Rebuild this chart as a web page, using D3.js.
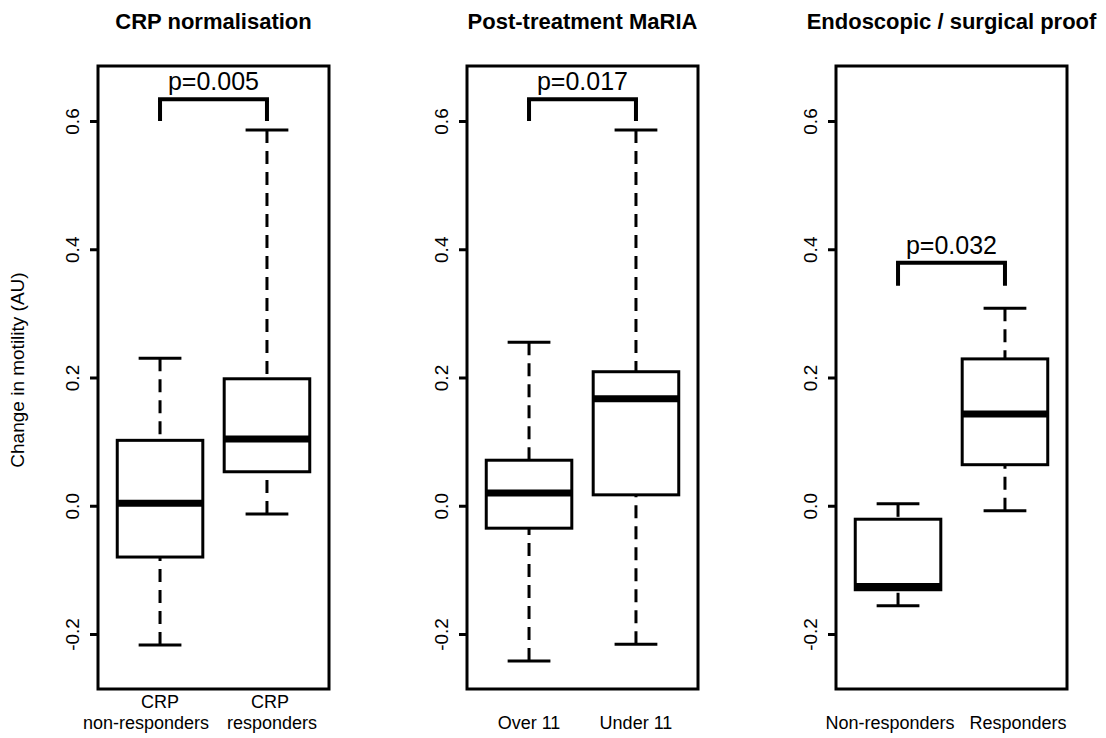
<!DOCTYPE html>
<html>
<head>
<meta charset="utf-8">
<script src="https://cdn.jsdelivr.net/npm/d3@7"></script>
<style>
  body { margin: 0; background: #fff; }
  text { font-family: "Liberation Sans", Arial, sans-serif; fill: #000; }
</style>
</head>
<body>
<div id="chart"></div>
<script>
// panel titles and group labels (two lines under each box)
const titles = ["CRP normalisation", "Post-treatment MaRIA", "Endoscopic / surgical proof"];
const groupLabels = [
  [["CRP", "non-responders"], ["CRP", "responders"]],
  [["", "Over 11"], ["", "Under 11"]],
  [["", "Non-responders"], ["", "Responders"]]
];

// box statistics per panel, [group1, group2]
const whiskerLow  = [[-0.217, -0.013], [-0.242, -0.216], [-0.156, -0.008]];
const q1          = [[-0.080,  0.053], [-0.035,  0.017], [-0.131,  0.064]];
const median      = [[ 0.004,  0.104], [ 0.020,  0.167], [-0.126,  0.143]];
const q3          = [[ 0.102,  0.198], [ 0.071,  0.209], [-0.021,  0.229]];
const whiskerHigh = [[ 0.230,  0.586], [ 0.255,  0.586], [ 0.003,  0.308]];

// significance brackets
const pLabels    = ["p=0.005", "p=0.017", "p=0.032"];
const bracketTop = [0.634, 0.634, 0.379];
const bracketLeg = [0.600, 0.600, 0.343];

const yTicks = [-0.2, 0.0, 0.2, 0.4, 0.6];

const width = 1106, height = 738;
const plotTop = 66, plotBottom = 689;
const panelW = 231, panelStep = 369, firstLeft = 98;
// long labels got pushed apart in the original so they don't collide
const labelNudge = [[[0, -14], [3, 5]], [[0, 0], [0, 0]], [[0, -8], [0, 13]]];

const svg = d3.select("#chart").append("svg")
  .attr("width", width)
  .attr("height", height);

const y = d3.scaleLinear()
  .domain([-0.2858, 0.6858])
  .range([plotBottom, plotTop]);

titles.forEach(function(title, i) {
  const x0 = firstLeft + i * panelStep;
  const x = d3.scaleLinear().domain([0.42, 2.58]).range([x0, x0 + panelW]);
  const g = svg.append("g");

  // title
  g.append("text")
    .attr("x", x0 + panelW / 2)
    .attr("y", 29)
    .attr("text-anchor", "middle")
    .style("font-weight", "bold")
    .style("font-size", "22px")
    .text(title);

  // y axis
  const axis = d3.axisLeft(y)
    .tickValues(yTicks)
    .tickSize(8)
    .tickFormat(d => d.toFixed(1));

  const ax = g.append("g")
    .attr("transform", "translate(" + x0 + ",0)")
    .call(axis);
  ax.select(".domain").remove();
  ax.selectAll(".tick line").attr("stroke", "#000").attr("stroke-width", 3);
  ax.selectAll(".tick text")
    .attr("transform", "rotate(-90)")
    .attr("x", 0)
    .attr("y", -19)
    .attr("dy", 0)
    .attr("text-anchor", "middle")
    .style("font-size", "19px")
    .style("font-family", "'Liberation Sans', Arial, sans-serif")
    .attr("fill", "#000");

  const boxW = x(1.4) - x(0.6);
  const capW = boxW / 2;

  [0, 1].forEach(function(j) {
    const cx = x(j + 1);
    // whiskers, drawn from whisker end toward box like R does
    g.append("line")
      .attr("x1", cx).attr("x2", cx)
      .attr("y1", y(whiskerHigh[i][j])).attr("y2", y(q3[i][j]))
      .attr("stroke", "#000").attr("stroke-width", 3)
      .attr("stroke-dasharray", "13,8");
    g.append("line")
      .attr("x1", cx).attr("x2", cx)
      .attr("y1", y(whiskerLow[i][j])).attr("y2", y(q1[i][j]))
      .attr("stroke", "#000").attr("stroke-width", 3)
      .attr("stroke-dasharray", "13,8");
    // staples
    [whiskerHigh[i][j], whiskerLow[i][j]].forEach(function(v) {
      g.append("line")
        .attr("x1", cx - capW / 2).attr("x2", cx + capW / 2)
        .attr("y1", y(v)).attr("y2", y(v))
        .attr("stroke", "#000").attr("stroke-width", 3);
    });
    // box
    g.append("rect")
      .attr("x", cx - boxW / 2)
      .attr("y", y(q3[i][j]))
      .attr("width", boxW)
      .attr("height", y(q1[i][j]) - y(q3[i][j]))
      .attr("fill", "#fff")
      .attr("stroke", "#000")
      .attr("stroke-width", 3);
    // median
    g.append("line")
      .attr("x1", cx - boxW / 2).attr("x2", cx + boxW / 2)
      .attr("y1", y(median[i][j])).attr("y2", y(median[i][j]))
      .attr("stroke", "#000").attr("stroke-width", 7);

    // group labels
    const lab = groupLabels[i][j];
    const nudge = labelNudge[i][j];
    g.append("text")
      .attr("x", cx + nudge[0]).attr("y", 708)
      .attr("text-anchor", "middle")
      .style("font-size", "18px")
      .text(lab[0]);
    g.append("text")
      .attr("x", cx + nudge[1]).attr("y", 729)
      .attr("text-anchor", "middle")
      .style("font-size", "18px")
      .text(lab[1]);
  });

  // significance bracket
  const bx1 = x(1), bx2 = x(2);
  g.append("path")
    .attr("d", "M" + bx1 + "," + y(bracketLeg[i]) +
               "V" + y(bracketTop[i]) +
               "H" + bx2 +
               "V" + y(bracketLeg[i]))
    .attr("fill", "none")
    .attr("stroke", "#000")
    .attr("stroke-width", 4);
  g.append("text")
    .attr("x", (bx1 + bx2) / 2)
    .attr("y", y(bracketTop[i]) - 9)
    .attr("text-anchor", "middle")
    .style("font-size", "25px")
    .text(pLabels[i]);

  // frame
  g.append("rect")
    .attr("x", x0).attr("y", plotTop)
    .attr("width", panelW).attr("height", plotBottom - plotTop)
    .attr("fill", "none")
    .attr("stroke", "#000")
    .attr("stroke-width", 3);
});

// shared y label
svg.append("text")
  .attr("transform", "translate(24,370) rotate(-90)")
  .attr("text-anchor", "middle")
  .style("font-size", "19px")
  .text("Change in motility (AU)");
</script>
</body>
</html>
